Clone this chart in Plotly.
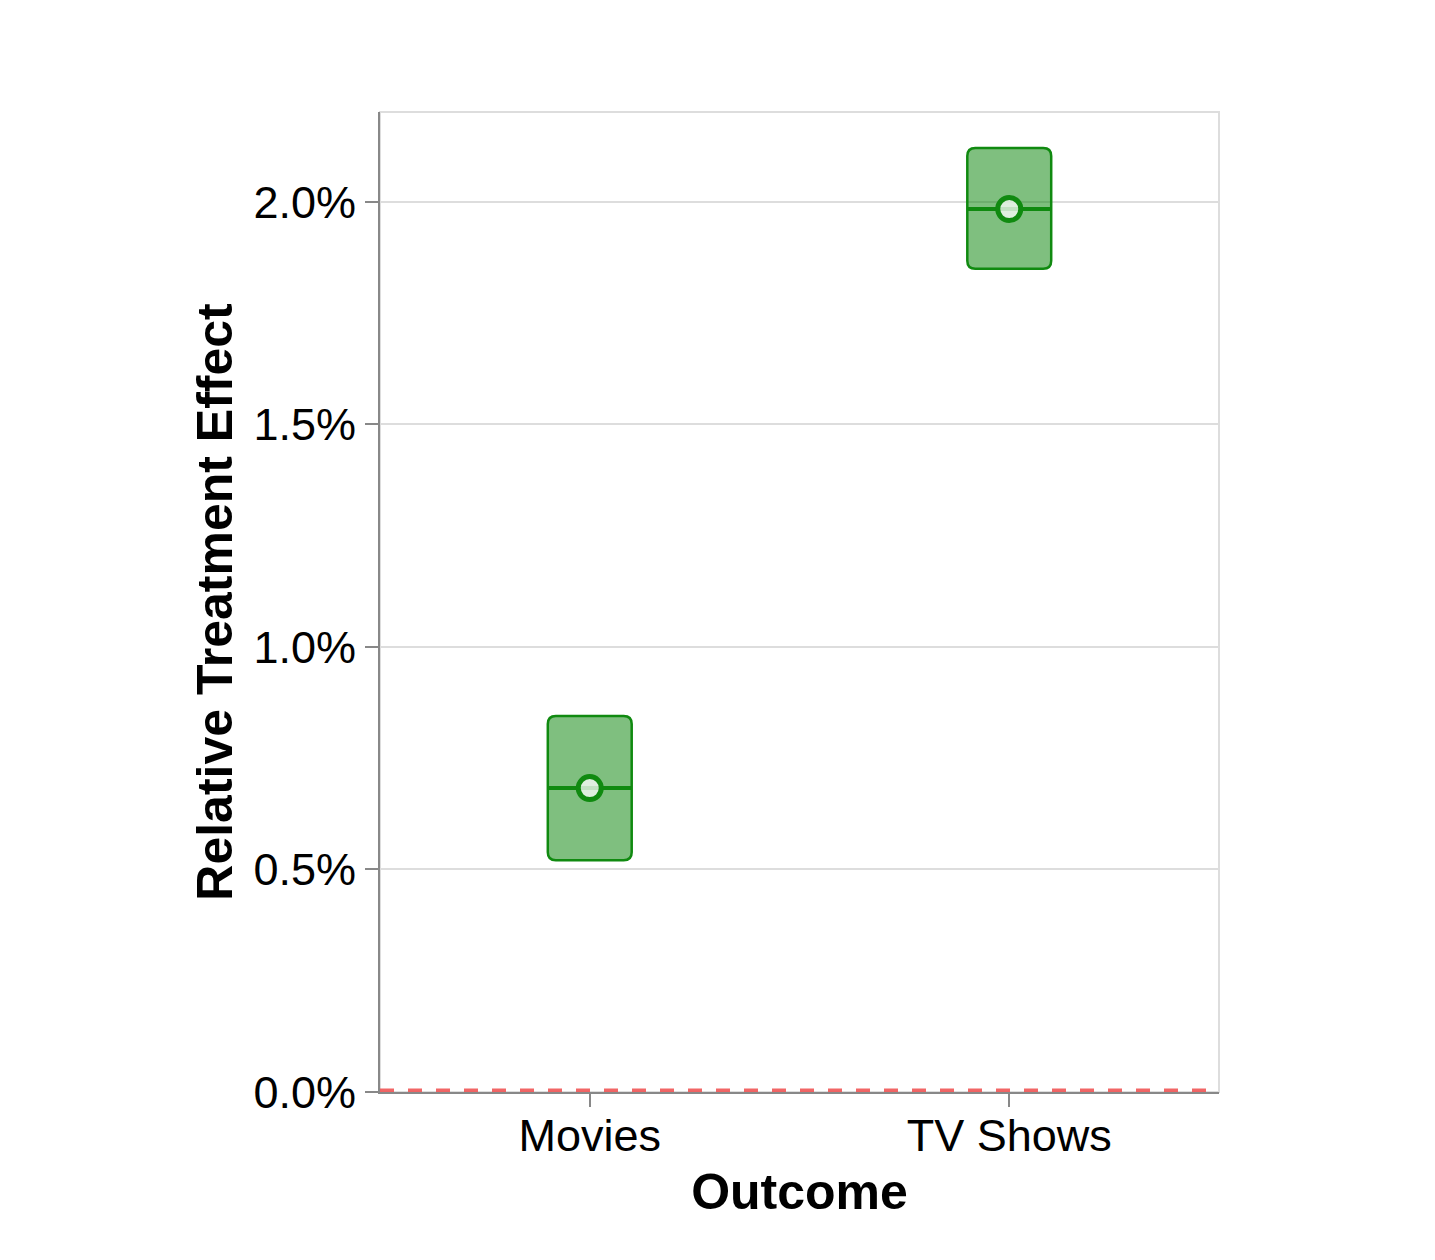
import plotly.graph_objects as go

# data
outcomes = ["Movies", "TV Shows"]
estimate = [0.00683, 0.01984]
ci_lower = [0.00521, 0.01850]
ci_upper = [0.00845, 0.02121]
baseline = 0.0

GREEN = "#108a10"
FILL = "rgba(0,128,0,0.5)"
HALF_W = 0.1

W, H = 1435, 1260
ML, MR, MT, MB = 372, 224, 104, 176
X_RANGE = [-0.5, 1.5]
Y_RANGE = [0, 0.02202]

# pixel -> data unit factors, used to keep the rounded corners round
px_x = (X_RANGE[1] - X_RANGE[0]) / (W - ML - MR)
px_y = (Y_RANGE[1] - Y_RANGE[0]) / (H - MT - MB)


def rounded_rect(x0, x1, y0, y1, r=8):
    rx, ry = r * px_x, r * px_y
    return (f"M {x0 + rx},{y0} L {x1 - rx},{y0} Q {x1},{y0} {x1},{y0 + ry} "
            f"L {x1},{y1 - ry} Q {x1},{y1} {x1 - rx},{y1} "
            f"L {x0 + rx},{y1} Q {x0},{y1} {x0},{y1 - ry} "
            f"L {x0},{y0 + ry} Q {x0},{y0} {x0 + rx},{y0} Z")


xs = list(range(len(outcomes)))

shapes = [
    # light frame around the plot area
    dict(type="rect", xref="paper", yref="paper", x0=0, x1=1, y0=0, y1=1,
         line=dict(color="#dddddd", width=2), layer="below"),
]
for i in xs:
    shapes.append(dict(type="path", path=rounded_rect(i - HALF_W, i + HALF_W, ci_lower[i], ci_upper[i]),
                       fillcolor=FILL, line=dict(color=GREEN, width=2.5), layer="between"))
# zero reference line, nudged up a pixel so the plot clip doesn't eat half of it
y_ref = baseline + 1.5 * px_y
shapes.append(dict(type="line", xref="paper", x0=0, x1=1, y0=y_ref, y1=y_ref,
                   line=dict(color="rgba(240,85,85,0.9)", width=4, dash="14px,14px"), layer="above"))

mx, my = [], []
for i in xs:
    mx += [i - HALF_W, i + HALF_W, None]
    my += [estimate[i], estimate[i], None]

fig = go.Figure()
fig.add_trace(go.Scatter(x=mx, y=my, mode="lines", line=dict(color=GREEN, width=4),
                         hoverinfo="skip", showlegend=False))
fig.add_trace(go.Scatter(
    x=xs, y=estimate, mode="markers", showlegend=False,
    marker=dict(size=23, color="rgba(255,255,255,0.75)", line=dict(color=GREEN, width=5)),
    customdata=outcomes,
    hovertemplate="%{customdata}: %{y:.2%}<extra></extra>",
))

fig.update_layout(
    width=W, height=H,
    margin=dict(l=ML, r=MR, t=MT, b=MB),
    paper_bgcolor="white", plot_bgcolor="white",
    font=dict(family="Liberation Sans, Arial, sans-serif", size=45, color="black"),
    shapes=shapes,
)
fig.update_xaxes(
    range=X_RANGE, tickvals=xs, ticktext=outcomes,
    showgrid=False, zeroline=False, layer="below traces",
    showline=True, linecolor="#888888", linewidth=2,
    ticks="outside", ticklen=13, tickwidth=2, tickcolor="#888888",
    ticklabelstandoff=-10,
    title=dict(text="<b>Outcome</b>", font=dict(size=50), standoff=14),
)
fig.update_yaxes(
    range=Y_RANGE, tickvals=[0, 0.005, 0.01, 0.015, 0.02], tickformat=".1%",
    showgrid=True, gridcolor="#dddddd", gridwidth=2, zeroline=False,
    showline=True, linecolor="#888888", linewidth=2,
    ticks="outside", ticklen=13, tickwidth=2, tickcolor="#888888",
    title=dict(text="<b>Relative Treatment Effect</b>", font=dict(size=50), standoff=5),
)

fig.write_html("out.html")
